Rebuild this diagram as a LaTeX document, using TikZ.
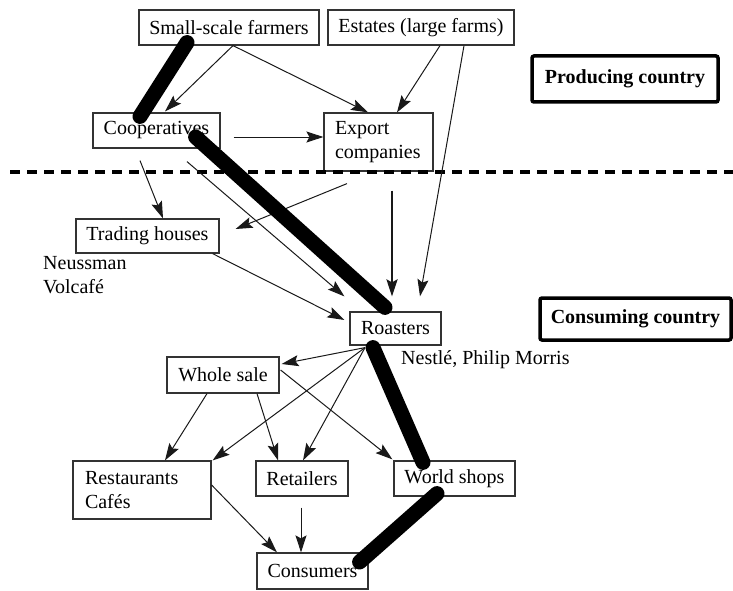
\documentclass[tikz,border=0pt]{standalone}
\usepackage{fontspec}
\setmainfont{Liberation Serif}
\usetikzlibrary{arrows.meta}
\newcommand\fs{\rmfamily\fontsize{20}{24}\selectfont}
\begin{document}
\begin{tikzpicture}[x=1pt,y=1pt,
  box/.style={draw=black!80, line width=1.2pt, inner sep=0pt, font=\fs, align=center},
  cbox/.style={draw=black, line width=3.5pt, rounded corners=2pt, inner sep=0pt, font=\fs\bfseries},
  arr/.style={draw=black!90, line width=1pt, -{Stealth[length=17pt,width=11pt,inset=3pt]}},
  bar/.style={draw=black, line width=15pt, line cap=round}]
\useasboundingbox (0,0) rectangle (733,-591);

\node[box, minimum width=180pt, minimum height=35pt] (small) at (229,-27.5) {Small-scale farmers};
\node[box, minimum width=186pt, minimum height=35pt] (estates) at (421,-27.5) {Estates (large farms)};
\node[cbox, minimum width=186pt, minimum height=46pt] (prod) at (625,-79) {Producing country};
\node[box, minimum width=127pt, minimum height=35pt] (coop) at (156.5,-130.5) {Cooperatives};
\node[box, minimum width=109pt, minimum height=58pt, text width=87pt, align=left] (export) at (378.5,-142) {Export\\companies};
\node[box, minimum width=143pt, minimum height=34pt] (trading) at (147.5,-236) {Trading houses};
\node[anchor=west, font=\fs, align=left, inner sep=0pt] (neuss) at (43,-275) {Neussman\\Volcafé};
\node[box, minimum width=91pt, minimum height=33pt] (roast) at (395.5,-328.5) {Roasters};
\node[cbox, minimum width=191pt, minimum height=42pt] (cons) at (635.5,-319) {Consuming country};
\node[anchor=west, font=\fs, inner sep=0pt] (nestle) at (401,-360) {Nestlé, Philip Morris};
\node[box, minimum width=112pt, minimum height=36pt] (whole) at (223,-375) {Whole sale};
\node[box, minimum width=138pt, minimum height=58pt, text width=114pt, align=left] (rest) at (142,-490) {Restaurants\\Cafés};
\node[box, minimum width=92pt, minimum height=35pt] (retail) at (302,-478.5) {Retailers};
\node[box, minimum width=121pt, minimum height=35pt] (world) at (454.5,-478.5) {World shops};
\node[box, minimum width=111pt, minimum height=36pt] (consumers) at (312.5,-571) {Consumers};

% dashed border line
\coordinate (dl) at (10,-172);
\coordinate (dr) at (733,-172);
\draw[line width=4pt, dash pattern=on 10pt off 7pt] (dl) -- (dr);

% thin arrows
\draw[arr] ([xshift=4pt]small.south) -- ([xshift=8.5pt,yshift=1pt]coop.north);
\draw[arr] ([xshift=4pt]small.south) -- ([xshift=-10.5pt]export.north);
\draw[arr] ([xshift=19pt]estates.south) -- ([xshift=18.5pt]export.north);
\draw[arr] ([xshift=43pt]estates.south) -- ([xshift=24.5pt,yshift=15pt]roast.north);
\draw[arr] ([xshift=13pt,yshift=-6.5pt]coop.east) -- ([yshift=5pt]export.west);
\draw[arr] ([xshift=-16.5pt,yshift=-12pt]coop.south) -- ([xshift=15.5pt]trading.north);
\draw[arr] ([xshift=30.5pt,yshift=-13pt]coop.south) -- ([xshift=-5pt,yshift=15pt]roast.north west);
\draw[arr] ([xshift=-31.5pt,yshift=-12pt]export.south) -- ([xshift=16pt,yshift=7pt]trading.east);
\draw[arr, line width=2.5pt] ([xshift=13.5pt,yshift=-19pt]export.south) -- ([xshift=-3.5pt,yshift=15pt]roast.north);
\draw[arr] ([xshift=-7pt]trading.south east) -- ([xshift=-5pt,yshift=8.5pt]roast.west);
\draw[arr] ([xshift=-30.5pt,yshift=-2pt]roast.south) -- ([xshift=2pt,yshift=11pt]whole.east);
\draw[arr] ([xshift=-30.5pt,yshift=-2pt]roast.south) -- ([xshift=1pt]rest.north east);
\draw[arr] ([xshift=-30.5pt,yshift=-2pt]roast.south) -- ([xshift=1pt]retail.north);
\draw[arr] ([xshift=1pt,yshift=5pt]whole.east) -- ([xshift=-1pt,yshift=1pt]world.north west);
\draw[arr] ([xshift=-16pt]whole.south) -- ([xshift=23pt]rest.north);
\draw[arr] ([xshift=34pt]whole.south) -- ([xshift=-24pt]retail.north);
\draw[arr] ([yshift=5pt]rest.east) -- ([xshift=-35.5pt]consumers.north);
\draw[arr] ([xshift=-1pt,yshift=-11pt]retail.south) -- ([xshift=-11.5pt]consumers.north);

% thick bars
\draw[bar] ([xshift=-42pt,yshift=3pt]small.south) -- ([xshift=-16.5pt,yshift=-4pt]coop.north);
\draw[bar] ([xshift=-25pt,yshift=-6.5pt]coop.east) -- ([xshift=-10.5pt,yshift=4pt]roast.north);
\draw[bar] ([xshift=-22.5pt,yshift=-2pt]roast.south) -- ([xshift=-31.5pt,yshift=-2pt]world.north);
\draw[bar] ([xshift=-17.5pt,yshift=3pt]world.south) -- ([xshift=-9pt,yshift=9pt]consumers.east);
\end{tikzpicture}
\end{document}
